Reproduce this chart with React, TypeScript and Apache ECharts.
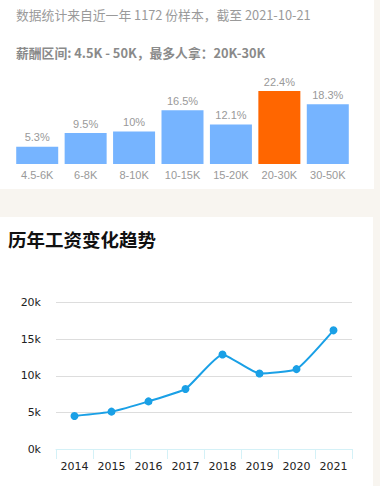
import React, { useEffect, useRef } from "react";
import * as echarts from "echarts";

const salaryRanges = ["4.5-6K", "6-8K", "8-10K", "10-15K", "15-20K", "20-30K", "30-50K"];
const salaryShares = [5.3, 9.5, 10, 16.5, 12.1, 22.4, 18.3];
const highlightIndex = 5;

const years = ["2014", "2015", "2016", "2017", "2018", "2019", "2020", "2021"];
const avgSalary = [4500, 5100, 6500, 8200, 12900, 10300, 10900, 16200];

const yTicks = { min: 0, max: 20000, interval: 5000 };

const noteText = "数据统计来自近一年 1172 份样本，截至 2021-10-21";
const rangeText = "薪酬区间: 4.5K - 50K，最多人拿：20K-30K";
const trendTitle = "历年工资变化趋势";

export default function App() {
  const ref = useRef<HTMLDivElement>(null);
  useEffect(() => {
    const chart = echarts.init(ref.current!, null, { renderer: "svg" });
    const maxShare = Math.max(...salaryShares);
    chart.setOption({
      animation: false,
      backgroundColor: "#f8f5f0",
      graphic: [
        { type: "rect", left: 0, top: 0, shape: { width: 374, height: 189 }, style: { fill: "#ffffff" }, z: -10 },
        { type: "rect", left: 0, top: 217, shape: { width: 373, height: 269 }, style: { fill: "#ffffff" }, z: -10 },
        {
          type: "text", left: 16, top: 8,
          style: { text: noteText, fill: "#9a9a9a", fontSize: 12.8, fontFamily: "Noto Sans CJK SC, Liberation Sans, sans-serif" },
        },
        {
          type: "text", left: 16, top: 46,
          style: { text: rangeText, fill: "#8a8a8a", fontSize: 12.8, fontWeight: "bold", fontFamily: "Noto Sans CJK SC, Liberation Sans, sans-serif" },
        },
        {
          type: "text", left: 8, top: 230,
          style: { text: trendTitle, fill: "#111111", fontSize: 18.5, fontWeight: "bold", fontFamily: "Noto Sans CJK SC, sans-serif" },
        },
      ],
      grid: [
        { left: 13, right: 28, top: 91, bottom: 322 },
        { left: 56, right: 28, top: 302.5, bottom: 37 },
      ],
      xAxis: [
        {
          gridIndex: 0, type: "category", data: salaryRanges,
          axisLine: { show: false }, axisTick: { show: false },
          axisLabel: { color: "#999999", fontSize: 11, margin: 5, fontFamily: "Liberation Sans, Arial, sans-serif" },
        },
        {
          gridIndex: 1, type: "category", data: years, boundaryGap: true,
          axisLine: { show: true, lineStyle: { color: "#d4f1f7", width: 1 } },
          axisTick: { show: true, length: 10, lineStyle: { color: "#d4f1f7" } },
          axisLabel: { color: "#222222", fontSize: 11, margin: 12, fontFamily: "DejaVu Sans, sans-serif" },
        },
      ],
      yAxis: [
        { gridIndex: 0, type: "value", min: 0, max: maxShare, show: false, splitLine: { show: false } },
        {
          gridIndex: 1, type: "value", min: yTicks.min, max: yTicks.max, interval: yTicks.interval,
          axisLine: { show: false }, axisTick: { show: false },
          axisLabel: {
            color: "#222222", fontSize: 11, margin: 15, fontFamily: "DejaVu Sans, sans-serif",
            formatter: (v: number) => v / 1000 + "k",
          },
          splitLine: { lineStyle: { color: "#dddddd" } },
        },
      ],
      series: [
        {
          type: "bar", xAxisIndex: 0, yAxisIndex: 0, barWidth: 42,
          data: salaryShares.map((v, i) => ({
            value: v,
            itemStyle: { color: i === highlightIndex ? "#ff6600" : "#76b4ff" },
          })),
          label: {
            show: true, position: "top", distance: 4, color: "#999999", fontSize: 11,
            fontFamily: "Liberation Sans, Arial, sans-serif",
            formatter: (p: any) => p.value + "%",
          },
        },
        {
          type: "line", xAxisIndex: 1, yAxisIndex: 1, data: avgSalary,
          smooth: 0.15, symbol: "circle", symbolSize: 8,
          lineStyle: { color: "#1aa0e6", width: 2 },
          itemStyle: { color: "#1aa0e6" },
        },
      ],
    });
    return () => chart.dispose();
  }, []);
  return (
    <div
      ref={ref}
      style={{ position: "absolute", left: 0, top: 0, width: 380, height: 486 }}
    />
  );
}
